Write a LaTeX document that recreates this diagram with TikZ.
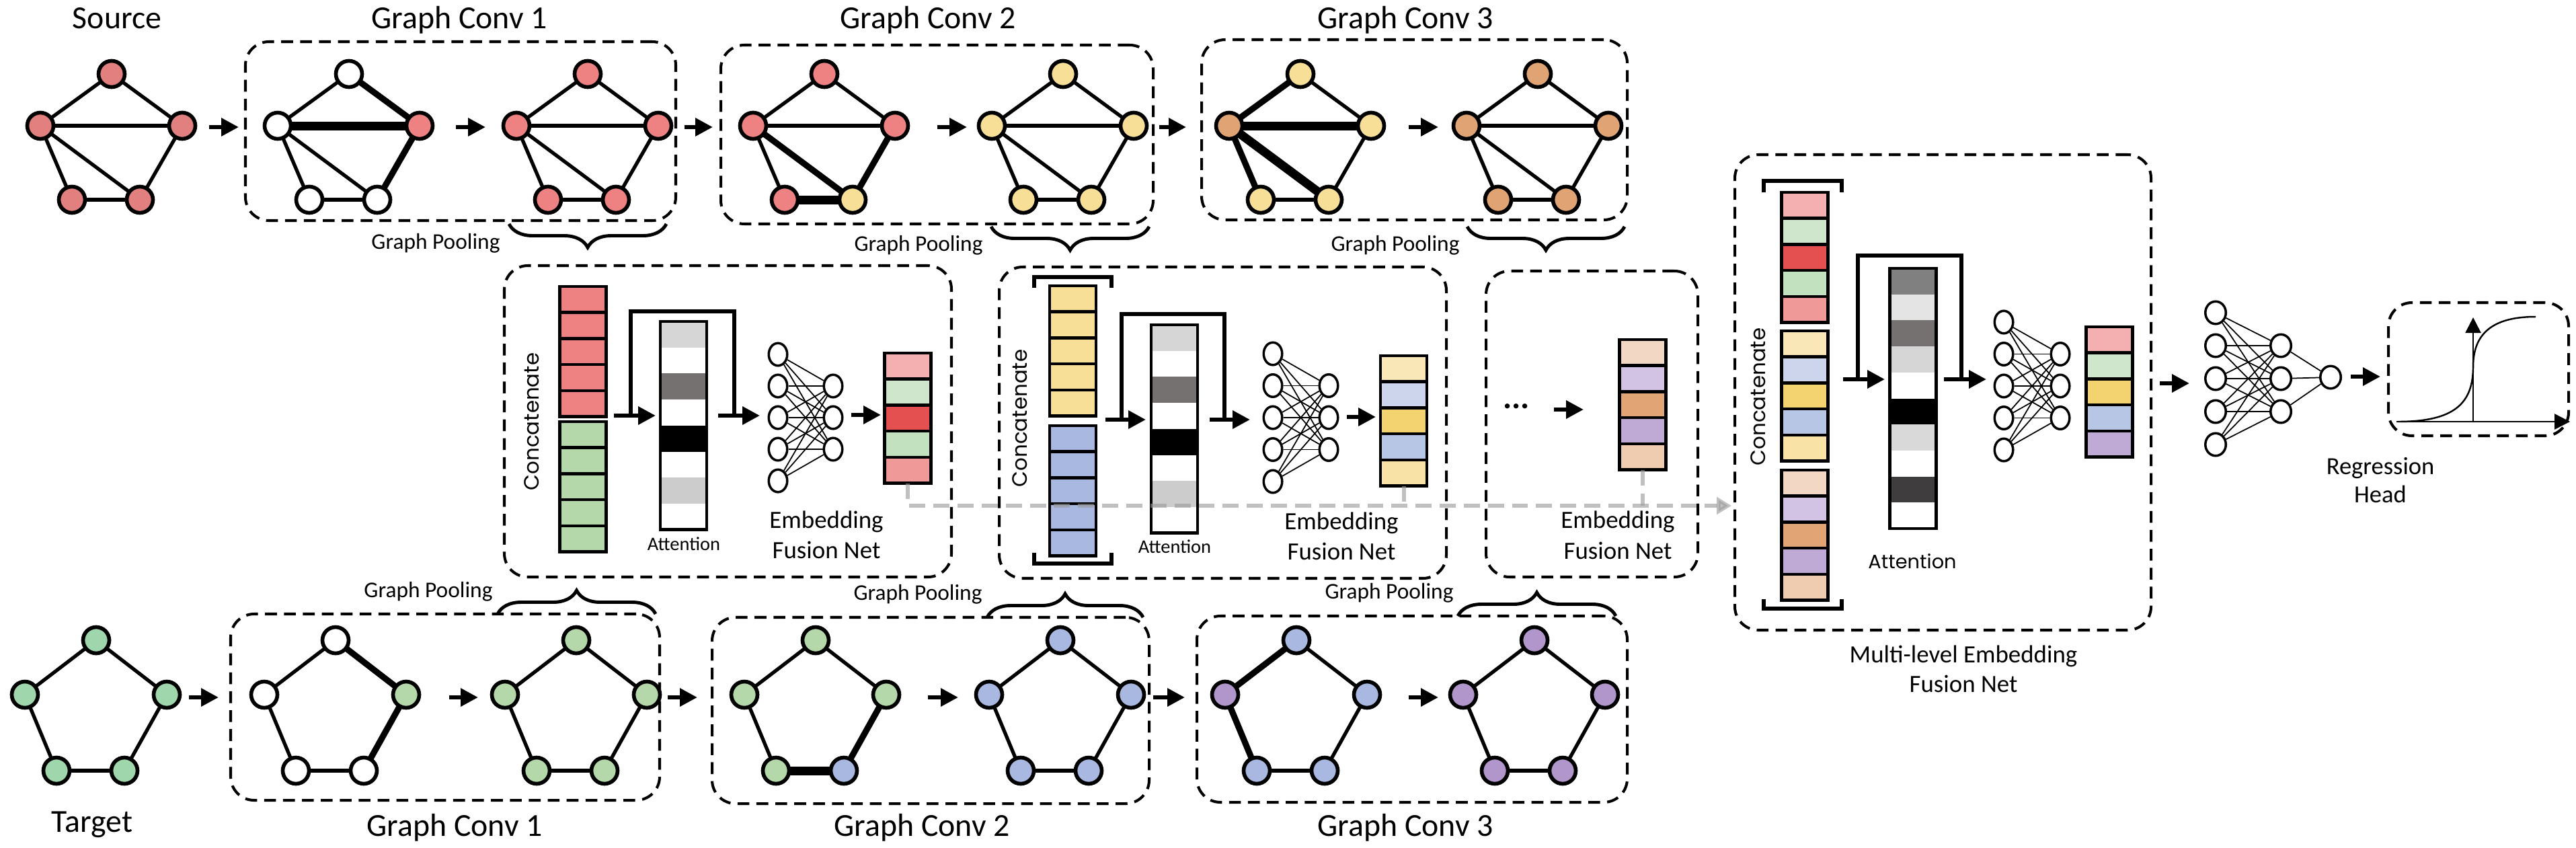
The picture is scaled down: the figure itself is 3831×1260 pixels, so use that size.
\documentclass[tikz,border=0pt]{standalone}
\usepackage{fontspec}
\setmainfont{Carlito}
\newfontfamily\concfont{Poppins}
\usetikzlibrary{arrows.meta,decorations.pathreplacing,shapes.geometric}
\pgfdeclarelayer{bg}
\pgfsetlayers{bg,main}

\definecolor{srcred}{HTML}{E27F7F}
\definecolor{nred}{HTML}{EE8282}
\definecolor{nyel}{HTML}{F7DF98}
\definecolor{norg}{HTML}{E0A474}
\definecolor{tgrn}{HTML}{9FD6AB}
\definecolor{ngrn}{HTML}{B4D8A9}
\definecolor{nblu}{HTML}{A9B8E0}
\definecolor{npur}{HTML}{B196CC}
\definecolor{cA}{HTML}{F4B0B0}
\definecolor{cB}{HTML}{CFE6CC}
\definecolor{cC}{HTML}{E45050}
\definecolor{cD}{HTML}{C2E1BE}
\definecolor{cE}{HTML}{F09999}
\definecolor{yA}{HTML}{F9E7B8}
\definecolor{yB}{HTML}{CDD5EC}
\definecolor{yC}{HTML}{F2D370}
\definecolor{yD}{HTML}{B8C6E6}
\definecolor{yE}{HTML}{F8E2A5}
\definecolor{pA}{HTML}{F2D8C4}
\definecolor{pB}{HTML}{D2C3E4}
\definecolor{pC}{HTML}{E0A475}
\definecolor{pD}{HTML}{BFA9D5}
\definecolor{pE}{HTML}{EFCBB0}
\definecolor{gA}{HTML}{D6D6D6}
\definecolor{gB}{HTML}{757171}
\definecolor{gC}{HTML}{CCCCCC}
\definecolor{gD}{HTML}{808080}
\definecolor{gE}{HTML}{E4E4E4}
\definecolor{gF}{HTML}{D9D9D9}
\definecolor{gG}{HTML}{3F3D3D}
\definecolor{gline}{HTML}{9A9A9A}

\newcommand{\szBig}{\fontsize{13.6}{16}\selectfont}
\newcommand{\szEmb}{\fontsize{10.5}{12}\selectfont}
\newcommand{\szPool}{\fontsize{9.5}{11}\selectfont}
\newcommand{\szAtt}{\fontsize{8.1}{10}\selectfont}
\newcommand{\szReg}{\fontsize{10.4}{12}\selectfont}
\newcommand{\szCon}{\concfont\fontsize{8.8}{10}\selectfont}
\newcommand{\szAttB}{\concfont\fontsize{8.2}{10}\selectfont}

% graph nodes: prefix, xc, ytop, colours t l r bl br
\newcommand{\gnodes}[8]{%
 \node[gn,fill=#4] (#1-t) at (#2,#3) {};
 \node[gn,fill=#5] (#1-l) at ({#2-106},{#3+\dmid}) {};
 \node[gn,fill=#6] (#1-r) at ({#2+105},{#3+\dmid}) {};
 \node[gn,fill=#7] (#1-bl) at ({#2-59},{#3+\dbot}) {};
 \node[gn,fill=#8] (#1-br) at ({#2+42},{#3+\dbot}) {};}
\newcommand{\hedges}[8]{%
 \begin{pgfonlayer}{bg}
 \draw[#2] (#1-t.center) -- (#1-l.center);
 \draw[#3] (#1-t.center) -- (#1-r.center);
 \draw[#4] (#1-l.center) -- (#1-r.center);
 \draw[#5] (#1-l.center) -- (#1-bl.center);
 \draw[#6] (#1-l.center) -- (#1-br.center);
 \draw[#7] (#1-bl.center) -- (#1-br.center);
 \draw[#8] (#1-r.center) -- (#1-br.center);
 \end{pgfonlayer}}
\newcommand{\pedges}[6]{%
 \begin{pgfonlayer}{bg}
 \draw[#2] (#1-t.center) -- (#1-l.center);
 \draw[#3] (#1-t.center) -- (#1-r.center);
 \draw[#4] (#1-l.center) -- (#1-bl.center);
 \draw[#5] (#1-bl.center) -- (#1-br.center);
 \draw[#6] (#1-r.center) -- (#1-br.center);
 \end{pgfonlayer}}
% column of cells: prefix, x centre, y top, style, colours
\newcommand{\colcells}[5]{%
 \foreach \cc [count=\ii] in {#5} {\node[#4,fill=\cc] (#1-\ii) at (#2,{#3+38.7*(\ii-0.5)}) {};}}
% small net: prefix, x1, ytop, dy, x2, style
\newcommand{\nnet}[6]{%
 \foreach \kk in {1,...,5} {\node[#6] (#1-a\kk) at (#2,{#3+#4*(\kk-1)}) {};}
 \foreach \kk in {1,2,3} {\node[#6] (#1-b\kk) at (#5,{#3+#4*\kk}) {};}
 \foreach \kk in {1,...,5} {\foreach \mm in {1,2,3} {\draw[nne] (#1-a\kk) -- (#1-b\mm);}}}

\begin{document}
\begin{tikzpicture}[x=0.1mm,y=-0.1mm,
 gn/.style={circle,draw,line width=1.6pt,minimum size=3.9mm,inner sep=0pt,outer sep=0pt},
 edgeN/.style={line width=1.5pt},
 edgeK/.style={line width=2.6pt},
 edgeKK/.style={line width=3.7pt},
 dbox/.style={draw,line width=1.15pt,dash pattern=on 5pt off 3pt,rounded corners=3.5mm,inner sep=0pt,outer sep=0pt},
 arr/.style={line width=1.8pt,-{Triangle[length=2.6mm,width=2.6mm]}},
 loopl/.style={line width=1.6pt},
 vcell/.style={draw,line width=1.3pt,minimum width=6.9mm,minimum height=3.87mm,inner sep=0pt,outer sep=0pt},
 acell/.style={draw=none,minimum width=6.9mm,minimum height=3.87mm,inner sep=0pt,outer sep=0pt},
 aframe/.style={draw,line width=1.3pt,minimum width=6.9mm,inner sep=0pt,outer sep=0pt},
 nnode/.style={ellipse,draw,line width=1pt,fill=white,minimum width=2.75mm,minimum height=3.35mm,inner sep=0pt},
 nnodeR/.style={ellipse,draw,line width=1pt,fill=white,minimum width=3.05mm,minimum height=3.35mm,inner sep=0pt},
 nne/.style={line width=0.5pt},
 lbl/.style={inner sep=0pt,anchor=base},
 brk/.style={line width=1.5pt},
 brc/.style={line width=1.4pt,decorate,decoration={brace,amplitude=3.5mm}},
 gl/.style={draw=gline,opacity=0.62,line width=1.7pt,dash pattern=on 6.8pt off 3.4pt},
 axisl/.style={line width=0.7pt,-{Triangle[length=2.3mm,width=2.3mm]}},
]
\useasboundingbox (0,0) rectangle (3831,1260);

% ---------- dashed boxes ----------
\node[dbox,minimum width=64mm,minimum height=26.6mm] (TC1) at (685,195) {};
\node[dbox,minimum width=64.3mm,minimum height=26.6mm] (TC2) at (1393.5,200) {};
\node[dbox,minimum width=63.3mm,minimum height=26.8mm] (TC3) at (2103.5,193) {};
\node[dbox,minimum width=63.8mm,minimum height=27.7mm] (BC1) at (662,1051.5) {};
\node[dbox,minimum width=65mm,minimum height=27.7mm] (BC2) at (1384,1056.5) {};
\node[dbox,minimum width=64mm,minimum height=27.7mm] (BC3) at (2100,1054.5) {};
\node[dbox,minimum width=66.5mm,minimum height=46.3mm] (F1) at (1082.5,626.5) {};
\node[dbox,minimum width=66.5mm,minimum height=46.3mm] (F2) at (1818.5,628.5) {};
\node[dbox,minimum width=31.5mm,minimum height=45.5mm] (F3) at (2367.5,630.5) {};
\node[dbox,minimum width=61.9mm,minimum height=70.7mm] (MF) at (2889.5,583.5) {};
\node[dbox,minimum width=26.8mm,minimum height=19.8mm] (RH) at (3686,549) {};

% ---------- titles ----------
\node[lbl,font=\szBig] (tSrc) at (174,42) {Source};
\node[lbl,font=\szBig] (tT1) at (683,42) {Graph Conv 1};
\node[lbl,font=\szBig] (tT2) at (1380,42) {Graph Conv 2};
\node[lbl,font=\szBig] (tT3) at (2090,42) {Graph Conv 3};
\node[lbl,font=\szBig] (tTgt) at (137,1237) {Target};
\node[lbl,font=\szBig] (tB1) at (676,1243) {Graph Conv 1};
\node[lbl,font=\szBig] (tB2) at (1371,1243) {Graph Conv 2};
\node[lbl,font=\szBig] (tB3) at (2090,1243) {Graph Conv 3};

% ---------- top row graphs ----------
\def\dmid{77}\def\dbot{187}
\gnodes{S}{166}{110}{srcred}{srcred}{srcred}{srcred}{srcred}
\gnodes{Ta}{519}{110}{white}{white}{nred}{white}{white}
\gnodes{Tb}{874}{110}{nred}{nred}{nred}{nred}{nred}
\gnodes{Tc}{1226}{110}{nred}{nred}{nred}{nred}{nyel}
\gnodes{Td}{1581}{110}{nyel}{nyel}{nyel}{nyel}{nyel}
\gnodes{Te}{1934}{110}{nyel}{norg}{nyel}{nyel}{nyel}
\gnodes{Tf}{2287}{110}{norg}{norg}{norg}{norg}{norg}
\hedges{S}{edgeN}{edgeN}{edgeN}{edgeN}{edgeN}{edgeN}{edgeN}
\hedges{Ta}{edgeN}{edgeK}{edgeKK}{edgeN}{edgeN}{edgeN}{edgeK}
\hedges{Tb}{edgeN}{edgeN}{edgeN}{edgeN}{edgeN}{edgeN}{edgeN}
\hedges{Tc}{edgeN}{edgeN}{edgeN}{edgeN}{edgeK}{edgeKK}{edgeK}
\hedges{Td}{edgeN}{edgeN}{edgeN}{edgeN}{edgeN}{edgeN}{edgeN}
\hedges{Te}{edgeK}{edgeN}{edgeKK}{edgeK}{edgeKK}{edgeN}{edgeN}
\hedges{Tf}{edgeN}{edgeN}{edgeN}{edgeN}{edgeN}{edgeN}{edgeN}

% ---------- bottom row graphs ----------
\def\dmid{81}\def\dbot{194}
\gnodes{B}{143}{952}{tgrn}{tgrn}{tgrn}{tgrn}{tgrn}
\gnodes{Ba}{499}{952}{white}{white}{ngrn}{white}{white}
\gnodes{Bb}{857}{952}{ngrn}{ngrn}{ngrn}{ngrn}{ngrn}
\gnodes{Bc}{1213}{952}{ngrn}{ngrn}{ngrn}{ngrn}{nblu}
\gnodes{Bd}{1577}{952}{nblu}{nblu}{nblu}{nblu}{nblu}
\gnodes{Be}{1928}{952}{nblu}{npur}{nblu}{nblu}{nblu}
\gnodes{Bf}{2282}{952}{npur}{npur}{npur}{npur}{npur}
\pedges{B}{edgeN}{edgeN}{edgeN}{edgeN}{edgeN}
\pedges{Ba}{edgeN}{edgeK}{edgeN}{edgeN}{edgeK}
\pedges{Bb}{edgeN}{edgeN}{edgeN}{edgeN}{edgeN}
\pedges{Bc}{edgeN}{edgeN}{edgeN}{edgeKK}{edgeK}
\pedges{Bd}{edgeN}{edgeN}{edgeN}{edgeN}{edgeN}
\pedges{Be}{edgeK}{edgeN}{edgeK}{edgeN}{edgeN}
\pedges{Bf}{edgeN}{edgeN}{edgeN}{edgeN}{edgeN}

% ---------- row arrows ----------
\foreach \n/\xa/\xb in {1/311/355,2/678/722,3/1018/1060,4/1394/1438,5/1724/1764,6/2095/2139} {
 \coordinate (ta\n s) at (\xa,189); \coordinate (ta\n e) at (\xb,189);
 \draw[arr] (ta\n s) -- (ta\n e);}
\foreach \n/\xa/\xb in {1/281/325,2/668/711,3/993/1037,4/1380/1425,5/1715/1762,6/2095/2139} {
 \coordinate (ba\n s) at (\xa,1037); \coordinate (ba\n e) at (\xb,1037);
 \draw[arr] (ba\n s) -- (ba\n e);}

% ---------- graph pooling braces ----------
\draw[brc] (991,333) -- (757,333);
\draw[brc] (1709,337) -- (1474,337);
\draw[brc] (2416,337) -- (2182,337);
\draw[brc] (740,913) -- (975,913);
\draw[brc] (1468,918) -- (1700,918);
\draw[brc] (2168,916) -- (2403,916);
\node[lbl,font=\szPool] (gp1) at (648,370) {Graph Pooling};
\node[lbl,font=\szPool] (gp2) at (1366,373) {Graph Pooling};
\node[lbl,font=\szPool] (gp3) at (2075,373) {Graph Pooling};
\node[lbl,font=\szPool] (gp4) at (637,888) {Graph Pooling};
\node[lbl,font=\szPool] (gp5) at (1365,892) {Graph Pooling};
\node[lbl,font=\szPool] (gp6) at (2066,890) {Graph Pooling};

% ---------- fusion block 1 ----------
\colcells{r1}{867}{426}{vcell}{nred,nred,nred,nred,nred}
\colcells{g1}{867}{627}{vcell}{ngrn,ngrn,ngrn,ngrn,ngrn}
\node[font=\szCon,rotate=90,inner sep=0pt] (cc1) at (791,627) {Concatenate};
\colcells{a1}{1016.5}{478}{acell}{gA,white,gB,white,black,white,gC,white}
\node[aframe,minimum height=30.96mm] (att1) at (1016.5,632.8) {};
\node[lbl,font=\szAtt] (at1) at (1017,818) {Attention};
\coordinate (f1a) at (913,618); \coordinate (f1b) at (975,618);
\coordinate (f1c) at (938,618); \coordinate (f1d) at (1092,463); \coordinate (f1e) at (1092,618);
\coordinate (f1f) at (1068,618); \coordinate (f1g) at (1130,618);
\draw[arr] (f1a) -- (f1b);
\draw[loopl] (f1c) |- (f1d) -- (f1e);
\draw[arr] (f1f) -- (f1g);
\nnet{n1}{1157}{527}{47}{1239}{nnode}
\coordinate (f1h) at (1266,617); \coordinate (f1i) at (1310,617);
\draw[arr] (f1h) -- (f1i);
\colcells{o1}{1350}{525}{vcell}{cA,cB,cC,cD,cE}
\node[lbl,font=\szEmb] (e1a) at (1229,785) {Embedding};
\node[lbl,font=\szEmb] (e1b) at (1229,830) {Fusion Net};

% ---------- fusion block 2 ----------
\draw[brk] (1538,428) -- (1538,412) -- (1653,412) -- (1653,428);
\draw[brk] (1538,822) -- (1538,838) -- (1653,838) -- (1653,822);
\colcells{y2}{1595.5}{425}{vcell}{nyel,nyel,nyel,nyel,nyel}
\colcells{b2}{1595.5}{633}{vcell}{nblu,nblu,nblu,nblu,nblu}
\node[font=\szCon,rotate=90,inner sep=0pt] (cc2) at (1517,622) {Concatenate};
\colcells{a2}{1746.5}{483}{acell}{gA,white,gB,white,black,white,gC,white}
\node[aframe,minimum height=30.96mm] (att2) at (1746.5,637.8) {};
\node[lbl,font=\szAtt] (at2) at (1747,822) {Attention};
\coordinate (f2a) at (1644,624); \coordinate (f2b) at (1704,624);
\coordinate (f2c) at (1668,624); \coordinate (f2d) at (1821,467); \coordinate (f2e) at (1821,624);
\coordinate (f2f) at (1799,624); \coordinate (f2g) at (1859,624);
\draw[arr] (f2a) -- (f2b);
\draw[loopl] (f2c) |- (f2d) -- (f2e);
\draw[arr] (f2f) -- (f2g);
\nnet{n2}{1893}{526}{47.5}{1976}{nnode}
\coordinate (f2h) at (2003,620); \coordinate (f2i) at (2046,620);
\draw[arr] (f2h) -- (f2i);
\colcells{o2}{2087.5}{529}{vcell}{yA,yB,yC,yD,yE}
\node[lbl,font=\szEmb] (e2a) at (1995,787) {Embedding};
\node[lbl,font=\szEmb] (e2b) at (1995,832) {Fusion Net};

% ---------- fusion block 3 ----------
\node[font=\fontsize{14}{14}\selectfont\bfseries,inner sep=0pt] (dots) at (2255,604) {...};
\coordinate (f3a) at (2311,609); \coordinate (f3b) at (2355,609);
\draw[arr] (f3a) -- (f3b);
\colcells{o3}{2443}{505}{vcell}{pA,pB,pC,pD,pE}
\node[lbl,font=\szEmb] (e3a) at (2406,785) {Embedding};
\node[lbl,font=\szEmb] (e3b) at (2406,831) {Fusion Net};

% ---------- grey dashed connector ----------
\coordinate (gend) at (2575,752);
\draw[gl,-{Triangle[length=2.2mm,width=2.5mm]}] (o1-5.south) -- (o1-5.south |- gend) -- (gend);
\draw[gl] (o2-5.south) -- (o2-5.south |- gend);
\draw[gl] (o3-5.south) -- (o3-5.south |- gend);

% ---------- multi-level fusion ----------
\draw[brk] (2623,286) -- (2623,269) -- (2739,269) -- (2739,286);
\draw[brk] (2623,891) -- (2623,905) -- (2739,905) -- (2739,891);
\colcells{m1}{2684}{286}{vcell}{cA,cB,cC,cD,cE}
\colcells{m2}{2684}{492}{vcell}{yA,yB,yC,yD,yE}
\colcells{m3}{2684}{699}{vcell}{pA,pB,pC,pD,pE}
\node[font=\szCon,rotate=90,inner sep=0pt] (cc3) at (2615,590) {Concatenate};
\colcells{a3}{2845}{399}{acell}{gD,gE,gB,gA,white,black,gF,white,gG,white}
\node[aframe,minimum height=38.7mm] (att3) at (2845,592.5) {};
\node[lbl,font=\szAttB] (at3) at (2844,845) {Attention};
\coordinate (m3a) at (2741,564); \coordinate (m3b) at (2803,564);
\coordinate (m3c) at (2763,564); \coordinate (m3d) at (2917,380); \coordinate (m3e) at (2917,564);
\coordinate (m3f) at (2891,564); \coordinate (m3g) at (2954,564);
\draw[arr] (m3a) -- (m3b);
\draw[loopl] (m3c) |- (m3d) -- (m3e);
\draw[arr] (m3f) -- (m3g);
\nnet{n3}{2980}{479}{47.5}{3064}{nnode}
\colcells{mo}{3137}{486}{vcell}{cA,cB,yC,yD,pD}
\node[lbl,font=\szEmb] (mfa) at (2920,985) {Multi-level Embedding};
\node[lbl,font=\szEmb] (mfb) at (2920,1029) {Fusion Net};

% ---------- regression head ----------
\coordinate (r0a) at (3212,570); \coordinate (r0b) at (3256,570);
\draw[arr] (r0a) -- (r0b);
\nnet{n4}{3295}{465}{49}{3392}{nnodeR}
\node[nnodeR] (n4-c) at (3466,561) {};
\foreach \kk in {1,2,3} {\draw[nne] (n4-b\kk) -- (n4-c);}
\coordinate (r1a) at (3496,560); \coordinate (r1b) at (3540,560);
\draw[arr] (r1a) -- (r1b);
\coordinate (ax0) at (3564,627); \coordinate (ax1) at (3822,627);
\coordinate (ay0) at (3678,627); \coordinate (ay1) at (3678,472);
\draw[axisl] (ax0) -- (ax1);
\draw[axisl] (ay0) -- (ay1);
\draw[line width=0.7pt] (3566,627) .. controls (3650,627) and (3678,600) .. (3678,545) .. controls (3678,490) and (3715,471) .. (3771,471);
\node[lbl,font=\szReg] (rg1) at (3540,705) {Regression};
\node[lbl,font=\szReg] (rg2) at (3540,747) {Head};
\end{tikzpicture}
\end{document}
